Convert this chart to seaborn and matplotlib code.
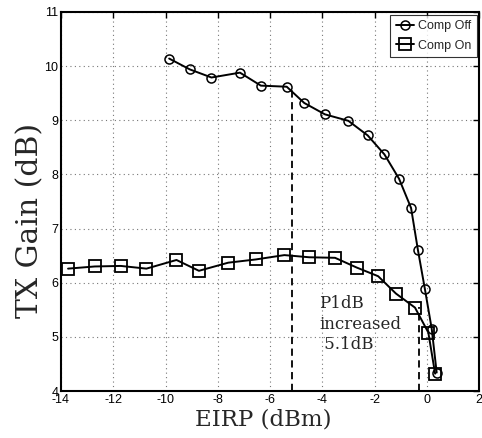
import matplotlib
matplotlib.use("Agg")
import matplotlib.pyplot as plt
import seaborn as sns
import pandas as pd
import numpy as np

# data
eirp_off = [-9.86, -9.07, -8.24, -7.15, -6.35, -5.36, -4.69, -3.90, -3.00,
            -2.26, -1.62, -1.06, -0.60, -0.34, -0.07, 0.19, 0.38]
gain_off = [10.14, 9.94, 9.79, 9.88, 9.64, 9.62, 9.32, 9.11, 8.99,
            8.72, 8.37, 7.92, 7.38, 6.61, 5.88, 5.15, 4.34]

eirp_on = [-13.73, -12.71, -11.71, -10.73, -9.58, -8.72, -7.60, -6.54, -5.45,
           -4.50, -3.51, -2.68, -1.86, -1.18, -0.45, 0.06, 0.32]
gain_on = [6.26, 6.30, 6.31, 6.26, 6.42, 6.22, 6.37, 6.43, 6.51,
           6.47, 6.46, 6.28, 6.12, 5.80, 5.54, 5.08, 4.32]

p1db_off = (-5.15, 9.57)
p1db_on = (-0.31, 5.55)
note = "P1dB\nincreased\n 5.1dB"

df_off = pd.DataFrame({"EIRP": eirp_off, "Gain": gain_off})
df_on = pd.DataFrame({"EIRP": eirp_on, "Gain": gain_on})

sns.set_style("white")
plt.rcParams["font.family"] = ["Liberation Sans", "DejaVu Sans"]
plt.rcParams["axes.unicode_minus"] = False

fig = plt.figure(figsize=(4.82, 4.38), dpi=100)
ax = fig.add_axes([61 / 482, 1 - 391 / 438, 418 / 482, 379 / 438])

sns.lineplot(data=df_off, x="EIRP", y="Gain", sort=False, ax=ax, color="black",
             linewidth=1.4, marker="o", markersize=6.5, markerfacecolor="none",
             markeredgecolor="black", markeredgewidth=1.1, label="Comp Off")
sns.lineplot(data=df_on, x="EIRP", y="Gain", sort=False, ax=ax, color="black",
             linewidth=1.4, marker="s", markersize=8, markerfacecolor="none",
             markeredgecolor="black", markeredgewidth=1.3, label="Comp On")

# P1dB markers
ax.plot([p1db_off[0], p1db_off[0]], [4, p1db_off[1]], ls="--", color="black", lw=1.3, dashes=(4, 2.5))
ax.plot([p1db_on[0], p1db_on[0]], [4, p1db_on[1]], ls="--", color="black", lw=1.3, dashes=(4, 2.5))
ax.text(-4.12, 5.78, note, family=["DejaVu Serif"], fontsize=12, va="top", ha="left",
        linespacing=1.3)

ax.set_xlim(-14, 2)
ax.set_ylim(4, 11)
ax.set_xticks(np.arange(-14, 3, 2))
ax.set_yticks(np.arange(4, 12, 1))
ax.grid(True, ls=(0, (1, 3)), color="#777777", lw=0.8)
ax.tick_params(direction="in", length=4, width=1, top=True, right=True,
               labelsize=9, pad=2, colors="black")
for s in ax.spines.values():
    s.set_visible(True)
    s.set_color("black")
    s.set_linewidth(1.5)

ax.set_xlabel("EIRP (dBm)", family=["DejaVu Serif"], fontsize=16.5)
ax.set_ylabel("TX Gain (dB)", family=["DejaVu Serif"], fontsize=21.5)
ax.xaxis.set_label_coords(0.483, -0.047, transform=ax.transAxes)
ax.yaxis.set_label_coords(-0.04, 0.45, transform=ax.transAxes)
ax.xaxis.label.set_va("top")
ax.yaxis.label.set_va("bottom")

leg = ax.legend(loc="upper right", fontsize=9, frameon=True, fancybox=False,
                borderpad=0.45, handlelength=1.5, handletextpad=0.25,
                labelspacing=0.6, borderaxespad=0.2)
leg.get_frame().set_edgecolor("black")
leg.get_frame().set_linewidth(0.8)

fig.savefig("out.png", dpi=100)
